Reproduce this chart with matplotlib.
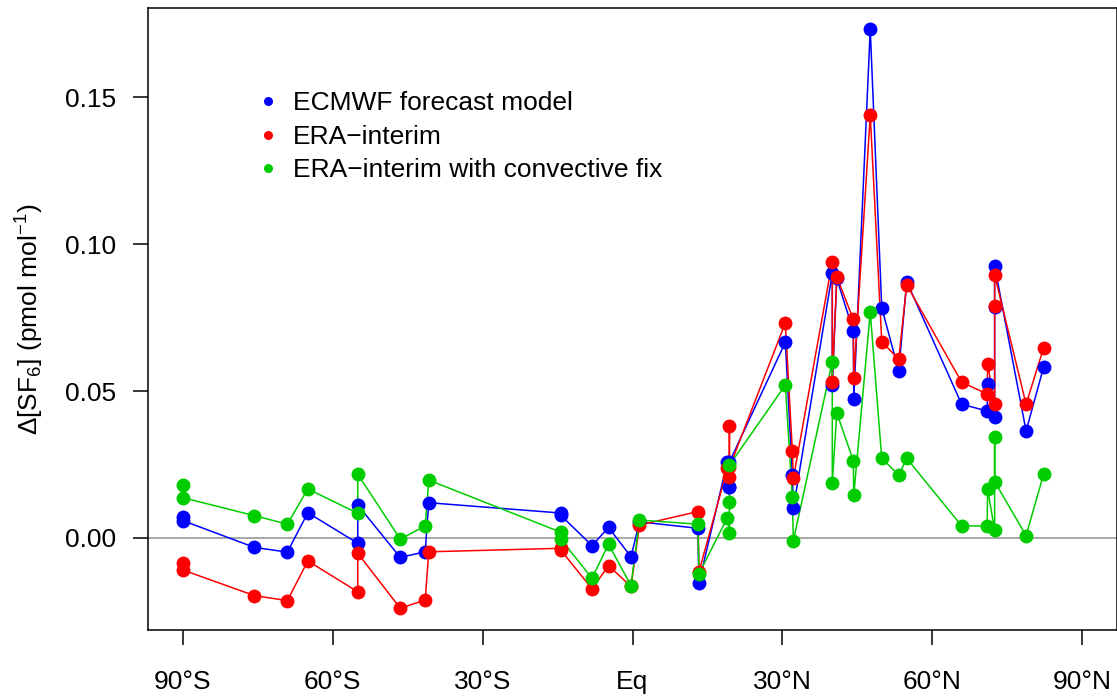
import numpy as np
import matplotlib
matplotlib.use("Agg")
import matplotlib.pyplot as plt

plt.rcParams['font.family'] = ['Liberation Sans', 'DejaVu Sans']
plt.rcParams['mathtext.fontset'] = 'custom'
plt.rcParams['mathtext.rm'] = 'Liberation Sans'
plt.rcParams['mathtext.it'] = 'Liberation Sans:italic'

# station latitudes (in plotting order) and SF6 differences per model run
lat = [-90.0, -90.0, -75.7, -69.1, -65.0, -55.0, -55.0, -46.5, -41.5, -40.8,
       -14.4, -14.4, -8.1, -4.8, -0.3, 1.4, 13.1, 13.3,
       19.0, 19.4, 19.4, 19.4, 30.6, 32.0, 32.2, 40.0, 40.0, 40.9,
       44.2, 44.3, 47.6, 49.9, 53.3, 54.9, 65.9, 71.0, 71.1,
       72.5, 72.5, 72.5, 78.8, 82.3]

ecmwf = [0.0072, 0.0059, -0.0032, -0.0048, 0.0086, -0.0018, 0.0112, -0.0066, -0.0047, 0.0120,
         0.0085, 0.0078, -0.0026, 0.0036, -0.0064, 0.0055, 0.0033, -0.0154,
         0.0260, 0.0172, 0.0172, 0.0258, 0.0666, 0.0214, 0.0101, 0.0900, 0.0520, 0.0883,
         0.0704, 0.0472, 0.1731, 0.0783, 0.0569, 0.0872, 0.0455, 0.0432, 0.0524,
         0.0413, 0.0787, 0.0926, 0.0364, 0.0581]

era = [-0.0086, -0.0109, -0.0196, -0.0213, -0.0078, -0.0183, -0.0052, -0.0239, -0.0211, -0.0047,
       -0.0035, -0.0040, -0.0173, -0.0094, -0.0165, 0.0044, 0.0090, -0.0115,
       0.0237, 0.0209, 0.0381, 0.0240, 0.0732, 0.0297, 0.0203, 0.0940, 0.0532, 0.0889,
       0.0744, 0.0545, 0.1439, 0.0668, 0.0608, 0.0861, 0.0530, 0.0490, 0.0592,
       0.0456, 0.0789, 0.0895, 0.0455, 0.0647]

era_fix = [0.0180, 0.0137, 0.0076, 0.0047, 0.0167, 0.0084, 0.0217, -0.0004, 0.0041, 0.0197,
           0.0020, -0.0003, -0.0137, -0.0021, -0.0162, 0.0061, 0.0047, -0.0122,
           0.0069, 0.0018, 0.0124, 0.0248, 0.0520, 0.0138, -0.0009, 0.0600, 0.0188, 0.0426,
           0.0263, 0.0146, 0.0768, 0.0271, 0.0214, 0.0271, 0.0041, 0.0041, 0.0166,
           0.0027, 0.0343, 0.0192, 0.0008, 0.0217]

series_labels = ["ECMWF forecast model", "ERA\u2212interim", "ERA\u2212interim with convective fix"]
series_colors = ["#0000FF", "#FF0000", "#00CD00"]

xticks = [-90, -60, -30, 0, 30, 60, 90]
xticklabels = ["90\u00b0S", "60\u00b0S", "30\u00b0S", "Eq", "30\u00b0N", "60\u00b0N", "90\u00b0N"]
yticks = [0.00, 0.05, 0.10, 0.15]

fig = plt.figure(figsize=(11.17, 6.96), dpi=100)
ax = fig.add_axes([148 / 1117, 1 - 630 / 696, 969 / 1117, 622 / 696])

ax.axhline(0, color="#A0A0A0", lw=1.3, zorder=1)

for vals, col in zip([ecmwf, era, era_fix], series_colors):
    ax.plot(lat, vals, "-", color=col, lw=1.1, zorder=2)
    ax.plot(lat, vals, "o", color=col, ms=10, mec="none", zorder=3)

handles = [plt.Line2D([0], [0], marker="o", color=c, ls="", ms=6.5, mec="none")
           for c in series_colors]
ax.legend(handles, series_labels, loc="upper left", bbox_to_anchor=(0.0993, 0.883),
          frameon=False, fontsize=19, handletextpad=0.45, labelspacing=0.36,
          borderaxespad=0, handlelength=1.0)

ax.set_xlim(-97, 97)
ax.set_ylim(-0.0313, 0.1803)
ax.set_xticks(xticks)
ax.set_xticklabels(xticklabels)
ax.set_yticks(yticks)
ax.set_yticklabels(["%.2f" % v for v in yticks])
ax.tick_params(axis="both", labelsize=19, length=11, width=1.1, direction="out")
ax.tick_params(axis="y", pad=12)
ax.tick_params(axis="x", pad=18)
for s in ax.spines.values():
    s.set_linewidth(1.1)

ax.set_ylabel("\u0394[SF$_6$] (pmol mol$^{\u22121}$)", fontsize=19)
ax.yaxis.set_label_coords(-0.105, 0.5)

fig.savefig("out.png", dpi=100)
